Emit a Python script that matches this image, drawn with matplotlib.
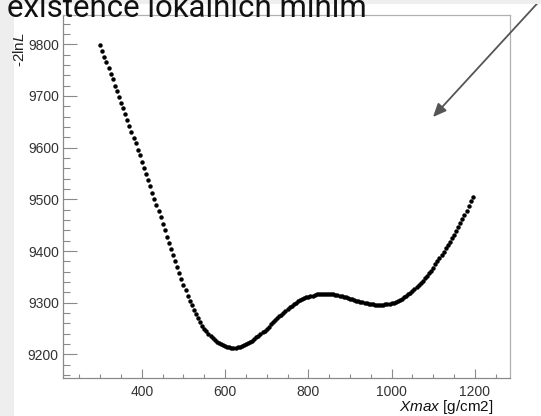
import matplotlib
matplotlib.use("Agg")
import matplotlib.pyplot as plt
from matplotlib.patches import Rectangle

xmax_values = [
    300, 305, 310, 315, 320, 325, 330, 335, 340, 345, 350, 355, 360, 365, 370, 375, 380, 385, 390, 395,
    400, 405, 410, 415, 420, 425, 430, 435, 440, 445, 450, 455, 460, 465, 470, 475, 480, 485, 490, 495,
    500, 505, 510, 515, 520, 525, 530, 535, 540, 545, 550, 555, 560, 565, 570, 575, 580, 585, 590, 595,
    600, 605, 610, 615, 620, 625, 630, 635, 640, 645, 650, 655, 660, 665, 670, 675, 680, 685, 690, 695,
    700, 705, 710, 715, 720, 725, 730, 735, 740, 745, 750, 755, 760, 765, 770, 775, 780, 785, 790, 795,
    800, 805, 810, 815, 820, 825, 830, 835, 840, 845, 850, 855, 860, 865, 870, 875, 880, 885, 890, 895,
    900, 905, 910, 915, 920, 925, 930, 935, 940, 945, 950, 955, 960, 965, 970, 975, 980, 985, 990, 995,
    1000, 1005, 1010, 1015, 1020, 1025, 1030, 1035, 1040, 1045, 1050, 1055, 1060, 1065, 1070, 1075, 1080, 1085, 1090, 1095,
    1100, 1105, 1110, 1115, 1120, 1125, 1130, 1135, 1140, 1145, 1150, 1155, 1160, 1165, 1170, 1175, 1180, 1185, 1190, 1195,
]
minus2lnL = [
    9798, 9787, 9776, 9765, 9754, 9743, 9732, 9720, 9709, 9698, 9687, 9676, 9665, 9654, 9642, 9631, 9619, 9608, 9596, 9585,
    9573, 9561, 9549, 9537, 9525, 9513, 9501, 9489, 9477, 9465, 9453, 9441, 9428, 9416, 9404, 9392, 9380, 9369, 9357, 9346,
    9335, 9324, 9314, 9304, 9295, 9286, 9278, 9270, 9263, 9256, 9250, 9245, 9240, 9235, 9231, 9228, 9225, 9222, 9220, 9218,
    9216, 9215, 9214, 9213, 9213, 9213, 9214, 9215, 9216, 9218, 9220, 9222, 9225, 9227, 9230, 9233, 9236, 9239, 9243, 9246,
    9250, 9254, 9258, 9262, 9266, 9270, 9274, 9277, 9281, 9284, 9288, 9291, 9294, 9297, 9300, 9303, 9305, 9307, 9309, 9311,
    9312, 9313, 9314, 9315, 9316, 9316, 9317, 9317, 9317, 9317, 9317, 9316, 9316, 9315, 9315, 9314, 9313, 9312, 9311, 9310,
    9308, 9307, 9306, 9304, 9303, 9302, 9301, 9300, 9299, 9298, 9297, 9297, 9296, 9296, 9296, 9296, 9296, 9297, 9297, 9298,
    9299, 9300, 9302, 9304, 9306, 9308, 9311, 9313, 9316, 9319, 9322, 9326, 9330, 9334, 9338, 9342, 9347, 9352, 9357, 9362,
    9368, 9374, 9380, 9386, 9392, 9398, 9405, 9411, 9418, 9425, 9432, 9439, 9447, 9454, 9462, 9470, 9478, 9487, 9496, 9505,
]
x_major_ticks = [400, 600, 800, 1000, 1200]
y_major_ticks = [9200, 9300, 9400, 9500, 9600, 9700, 9800]

title_text = "existence lokálních minim"
ylabel_text = "-2ln$\\mathit{L}$"
xlabel_text = "$\\mathit{Xmax}$ [g/cm2]"

plt.rcParams["font.family"] = ["Liberation Sans", "DejaVu Sans"]
plt.rcParams["mathtext.fontset"] = "custom"
plt.rcParams["mathtext.rm"] = "Liberation Sans"
plt.rcParams["mathtext.it"] = "Liberation Sans:italic"

W, H = 541, 416
fig = plt.figure(figsize=(W / 100, H / 100), dpi=100)
fig.patch.set_facecolor("white")

# slide background strips
fig.patches.append(Rectangle((0, 0), 14 / W, 1, transform=fig.transFigure,
                             facecolor="#eeeeee", edgecolor="none", zorder=0))
fig.patches.append(Rectangle((0, 1 - 4 / H), 1, 4 / H, transform=fig.transFigure,
                             facecolor="#eeeeee", edgecolor="none", zorder=0))

ax = fig.add_axes([63 / W, (H - 378) / H, (510 - 63) / W, (378 - 15) / H])
ax.plot(xmax_values, minus2lnL, linestyle="none", marker="o", ms=3.2,
        color="black", markeredgewidth=0)

ax.set_xlim(210.5, 1284.5)
ax.set_ylim(9154.5, 9856.5)
ax.set_xticks(x_major_ticks)
ax.set_yticks(y_major_ticks)
ax.set_xticks([v for v in range(250, 1300, 50) if v not in x_major_ticks], minor=True)
ax.set_yticks([v for v in range(9160, 9860, 20) if v not in y_major_ticks], minor=True)

for side in ["left", "bottom"]:
    ax.spines[side].set_color("#8a8a8a")
for side in ["top", "right"]:
    ax.spines[side].set_color("#b0b0b0")
for s in ax.spines.values():
    s.set_linewidth(0.9)

ax.tick_params(axis="both", which="both", direction="in", color="#8a8a8a", width=0.8,
               labelcolor="#333333", labelsize=10)
ax.tick_params(axis="y", which="major", length=10, pad=3)
ax.tick_params(axis="y", which="minor", length=5)
ax.tick_params(axis="x", which="major", length=6.5, pad=5)
ax.tick_params(axis="x", which="minor", length=3)

fig.text(20 / W, 1 - 32 / H, ylabel_text, rotation=90, ha="center", va="top",
         fontsize=11, color="#222222")
fig.text(493 / W, 1 - 411 / H, xlabel_text, ha="right", va="baseline",
         fontsize=11, color="#111111")

fig.text(7 / W, 1 - 17 / H, title_text, ha="left", va="baseline",
         fontsize=22.5, color="#111111", family=["Roboto", "DejaVu Sans"])

ax.annotate("", xy=(433 / W, 1 - 117 / H), xycoords="figure fraction",
            xytext=(545 / W, 1 + 5 / H), textcoords="figure fraction",
            arrowprops=dict(arrowstyle="-|>,head_length=0.8,head_width=0.35",
                            color="#555555", lw=1.3, shrinkA=0, shrinkB=0),
            annotation_clip=False)

fig.savefig("out.png", dpi=100)
